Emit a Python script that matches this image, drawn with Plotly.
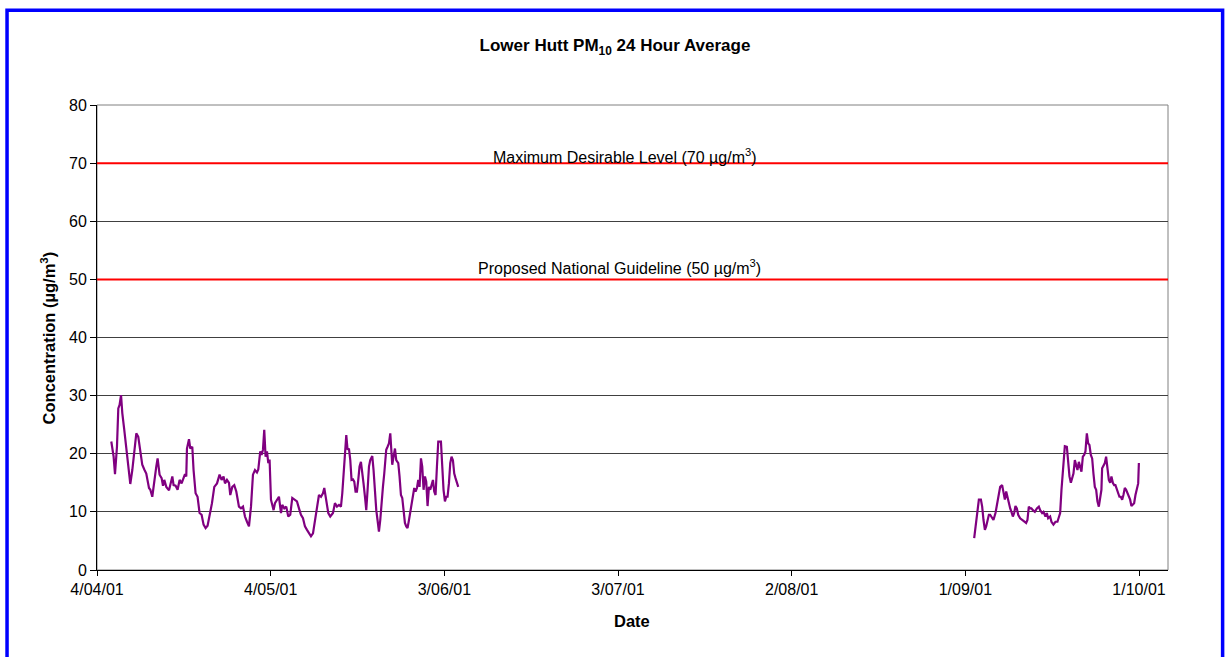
import pandas as pd
import plotly.graph_objects as go

# ---------------- data ----------------
START = "2001-04-04"
# days since 4 Apr 2001 and 24-hour average PM10 (ug/m3), segment 1 (Apr-Jun)
seg1_days = [2.47, 2.87, 3.11, 3.45, 3.68, 3.90, 4.15, 4.37, 4.71, 5.18,
             5.53, 5.75, 6.10, 6.44, 6.79, 7.13, 7.48, 7.82, 8.17, 8.51,
             8.98, 9.21, 9.55, 9.90, 10.24, 10.47, 10.81, 11.16, 11.40, 11.62,
             11.97, 12.44, 12.78, 13.01, 13.23, 13.58, 13.92, 14.27, 14.61, 14.85,
             15.20, 15.42, 15.54, 15.89, 16.11, 16.46, 16.68, 17.03, 17.37, 17.72,
             18.07, 18.41, 18.76, 19.10, 19.45, 19.86, 20.26, 20.73, 21.17, 21.52,
             21.86, 22.11, 22.45, 22.80, 23.02, 23.37, 23.71, 24.06, 24.52, 24.87,
             25.22, 25.56, 25.91, 26.25, 26.60, 26.94, 27.29, 27.63, 27.86, 28.20,
             28.43, 28.67, 28.89, 29.12, 29.36, 29.59, 29.81, 30.05, 30.28, 30.50,
             30.74, 31.09, 31.43, 31.78, 32.00, 32.35, 32.69, 33.04, 33.38, 33.73,
             34.20, 34.54, 34.89, 35.23, 35.58, 35.92, 36.27, 36.61, 36.96, 37.31,
             37.65, 38.00, 38.34, 38.69, 39.03, 39.26, 39.60, 39.95, 40.29, 40.76,
             41.10, 41.45, 41.80, 42.14, 42.37, 42.59, 42.83, 43.06, 43.28, 43.52,
             43.75, 43.97, 44.21, 44.44, 44.66, 44.90, 45.13, 45.35, 45.59, 45.82,
             46.04, 46.29, 46.51, 46.74, 46.98, 47.20, 47.55, 47.77, 48.01, 48.24,
             48.46, 48.70, 48.93, 49.15, 49.39, 49.62, 49.96, 50.19, 50.43, 50.66,
             50.88, 51.00, 51.23, 51.47, 51.69, 52.04, 52.26, 52.50, 52.73, 52.95,
             53.19, 53.42, 53.64, 53.89, 54.23, 54.58, 54.80, 55.03, 55.27, 55.49,
             55.72, 55.96, 56.18, 56.41, 56.65, 56.87, 57.10, 57.34, 57.56, 57.79,
             58.03, 58.25, 58.48, 58.72, 58.95, 59.17, 59.41, 59.64, 59.86, 60.10,
             60.33, 60.55, 60.79, 61.02, 61.24, 61.48, 61.71, 61.93, 62.18, 62.40]
seg1_vals = [22.1, 19.5, 16.5, 21.2, 27.8, 28.4, 30.1, 27.0, 24.1, 20.1,
             16.1, 14.8, 17.2, 20.1, 23.5, 22.9, 20.7, 18.1, 17.3, 16.6,
             14.1, 13.8, 12.6, 15.8, 17.8, 19.2, 16.4, 15.8, 14.5, 15.5,
             14.3, 13.7, 14.9, 16.1, 14.6, 14.5, 13.8, 15.5, 14.9, 15.6,
             16.5, 16.1, 20.9, 22.5, 20.9, 21.2, 17.2, 13.2, 12.6, 9.8,
             9.5, 7.8, 7.2, 7.6, 9.2, 11.5, 14.3, 14.9, 16.4, 15.5,
             16.1, 14.9, 15.5, 15.0, 12.9, 14.3, 14.6, 13.5, 10.9, 10.6,
             10.9, 9.2, 8.3, 7.5, 10.9, 16.4, 17.2, 16.8, 17.3, 20.4,
             19.8, 20.7, 24.1, 19.5, 20.4, 18.4, 19.0, 12.1, 11.2, 10.3,
             11.5, 12.1, 12.6, 9.8, 11.2, 10.6, 10.9, 9.2, 9.5, 12.4,
             12.1, 11.8, 10.6, 9.5, 8.9, 7.5, 6.9, 6.3, 5.8, 6.3,
             8.6, 10.9, 12.9, 12.6, 13.2, 14.1, 12.1, 9.8, 9.2, 9.8,
             11.5, 10.9, 11.2, 10.9, 13.2, 16.6, 21.2, 23.2, 20.7, 20.9,
             18.9, 15.5, 15.6, 15.2, 13.5, 13.5, 15.5, 17.8, 18.6, 16.1,
             14.9, 12.6, 10.3, 13.8, 17.8, 18.9, 19.6, 17.2, 13.2, 10.3,
             8.6, 6.6, 8.6, 12.1, 14.3, 16.6, 20.7, 21.2, 21.8, 23.5,
             20.7, 18.1, 19.5, 20.9, 18.9, 18.4, 16.1, 12.9, 12.4, 10.3,
             8.1, 7.5, 7.2, 8.6, 10.9, 12.6, 14.1, 13.5, 14.1, 15.5,
             14.3, 19.2, 17.8, 13.8, 16.1, 15.2, 11.0, 14.3, 13.8, 14.6,
             15.5, 13.5, 12.9, 17.8, 22.1, 22.1, 22.1, 17.8, 13.8, 11.8,
             12.6, 12.6, 14.9, 18.4, 19.5, 18.9, 16.6, 15.8, 14.9, 14.3]

# segment 2 (Sep)
seg2_days = [151.52, 151.74, 151.98, 152.33, 152.68, 152.90, 153.13, 153.37, 153.59, 153.82,
             154.06, 154.28, 154.51, 154.85, 155.20, 155.44, 155.78, 156.01, 156.35, 156.58,
             156.82, 157.05, 157.27, 157.51, 157.74, 157.96, 158.20, 158.43, 158.65, 158.89,
             159.12, 159.46, 159.81, 160.15, 160.50, 160.72, 160.96, 161.19, 161.41, 161.66,
             162.00, 162.35, 162.69, 162.92, 163.26, 163.49, 163.83, 164.07, 164.30, 164.64,
             164.87, 165.21, 165.56, 165.90, 166.15, 166.37, 166.60, 166.94, 167.18, 167.53,
             167.75, 167.98, 168.22, 168.44, 168.67, 168.91, 169.14, 169.36, 169.60, 169.83,
             170.05, 170.29, 170.52, 170.74, 170.98, 171.21, 171.43, 171.67, 171.90, 172.12,
             172.36, 172.59, 172.81, 173.05, 173.28, 173.50, 173.62, 173.85, 174.09, 174.31,
             174.54, 174.78, 175.01, 175.23, 175.47, 175.70, 175.92, 176.17, 176.39, 176.61,
             176.85, 177.08, 177.30, 177.54, 177.77, 177.99, 178.23, 178.46, 178.68, 178.93,
             179.15, 179.38, 179.62, 179.85, 179.97]
seg2_vals = [5.5, 7.5, 9.8, 12.1, 12.1, 10.9, 8.6, 6.9, 7.5, 8.6,
             9.5, 9.5, 9.2, 8.6, 9.8, 11.2, 12.9, 14.3, 14.6, 13.5,
             12.1, 13.5, 12.4, 11.5, 10.6, 10.0, 9.2, 9.8, 11.0, 10.6,
             9.5, 8.9, 8.6, 8.3, 8.1, 8.6, 10.9, 10.6, 10.6, 10.3,
             10.0, 10.6, 10.9, 10.3, 9.8, 10.0, 9.2, 9.8, 8.9, 9.2,
             8.3, 7.8, 8.3, 8.3, 9.2, 9.8, 13.8, 18.4, 21.3, 21.2,
             18.4, 16.1, 15.0, 16.1, 16.6, 18.9, 18.1, 17.2, 18.6, 17.5,
             16.9, 19.5, 19.8, 20.4, 23.5, 21.8, 21.5, 19.8, 19.2, 16.6,
             14.3, 13.8, 11.8, 10.9, 12.1, 13.8, 17.5, 18.1, 18.4, 19.5,
             17.5, 15.5, 15.0, 16.1, 15.0, 14.6, 14.6, 13.8, 12.9, 12.6,
             12.6, 12.1, 12.9, 14.1, 13.8, 13.2, 12.6, 12.1, 11.0, 11.2,
             11.5, 12.9, 14.3, 14.9, 18.4]

tick_dates = ["2001-04-04", "2001-05-04", "2001-06-03", "2001-07-03",
              "2001-08-02", "2001-09-01", "2001-10-01"]
x_range = ["2001-04-04", "2001-10-06"]
y_ticks = [0, 10, 20, 30, 40, 50, 60, 70, 80]

MAX_DESIRABLE = 70
NATIONAL_GUIDELINE = 50
max_label = "Maximum Desirable Level (70 µg/m<sup>3</sup>)"
guide_label = "Proposed National Guideline (50 µg/m<sup>3</sup>)"

# ---------------- figure ----------------
FONT = "Liberation Sans, Arial, sans-serif"
start = pd.Timestamp(START)
seg1_x = start + pd.to_timedelta(seg1_days, unit="D")
seg2_x = start + pd.to_timedelta(seg2_days, unit="D")

fig = go.Figure()
for xs, ys in [(seg1_x, seg1_vals), (seg2_x, seg2_vals)]:
    fig.add_trace(go.Scatter(x=xs, y=ys, mode="lines",
                             line=dict(color="#800080", width=2.2),
                             showlegend=False, hoverinfo="x+y"))

# guideline lines
for lvl in (MAX_DESIRABLE, NATIONAL_GUIDELINE):
    fig.add_shape(type="line", xref="x domain", yref="y", x0=0, x1=1,
                  y0=lvl, y1=lvl, line=dict(color="#FF0000", width=2))

# plot area border (grey)
fig.add_shape(type="rect", xref="paper", yref="paper", x0=0, x1=1, y0=0, y1=1,
              line=dict(color="#808080", width=1), layer="below")

# outer blue frame
fig.add_shape(type="rect", xref="paper", yref="paper",
              x0=-0.0840, x1=1.0510, y0=1.2035, y1=-0.25,
              line=dict(color="#0000FF", width=3.5))

fig.add_annotation(x=0.493, y=MAX_DESIRABLE, xref="paper", yref="y",
                   text=max_label, showarrow=False, yanchor="bottom", yshift=-4.5,
                   font=dict(family=FONT, size=16, color="#000"))
fig.add_annotation(x=0.4883, y=NATIONAL_GUIDELINE, xref="paper", yref="y",
                   text=guide_label, showarrow=False, yanchor="bottom", yshift=0.5,
                   font=dict(family=FONT, size=16, color="#000"))

# axis titles
fig.add_annotation(x=-0.0458, y=0.5, xref="paper", yref="paper",
                   xanchor="center", yanchor="middle",
                   text="<b>Concentration (µg/m<sup>3</sup>)</b>", textangle=-90,
                   showarrow=False, font=dict(family=FONT, size=16.5, color="#000"))
fig.add_annotation(x=0.4995, y=-0.1097, xref="paper", yref="paper",
                   xanchor="center", yanchor="middle",
                   text="<b>Date</b>", showarrow=False,
                   font=dict(family=FONT, size=16.5, color="#000"))

fig.update_layout(
    width=1226, height=657,
    margin=dict(l=97, r=58, t=105, b=87),
    paper_bgcolor="white", plot_bgcolor="white",
    font=dict(family=FONT, size=16, color="#000"),
    title=dict(text="<b>Lower Hutt PM<sub>10</sub> 24 Hour Average</b>",
               x=615 / 1226, xref="container", xanchor="center",
               y=1 - 45 / 657, yref="container", yanchor="middle",
               font=dict(family=FONT, size=17, color="#000")),
    xaxis=dict(type="date", range=x_range, tickvals=tick_dates,
               tickformat="%-d/%m/%y", showgrid=False, zeroline=False,
               showline=True, linecolor="#000", linewidth=1,
               ticks="outside", ticklen=5, tickcolor="#000",
               tickfont=dict(family=FONT, size=16, color="#000")),
    yaxis=dict(range=[0, 80], tickvals=y_ticks, showgrid=True,
               gridcolor="#404040", gridwidth=1, zeroline=False,
               showline=True, linecolor="#000", linewidth=1,
               ticks="outside", ticklen=6, tickcolor="#000",
               tickfont=dict(family=FONT, size=16, color="#000")),
)

fig.write_html("out.html", config={"displayModeBar": False},
               post_script="document.body.style.margin='0px';")
